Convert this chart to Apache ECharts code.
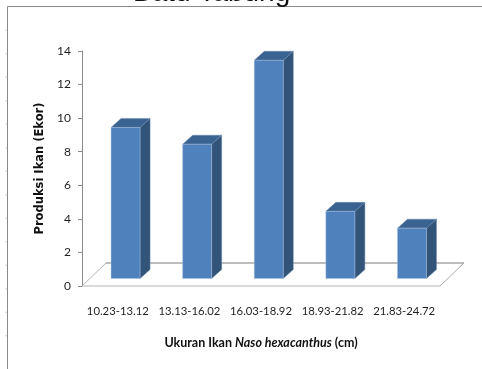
<!DOCTYPE html>
<html><head><meta charset="utf-8">
<style>html,body{margin:0;padding:0;background:#fff}#c{width:482px;height:369px}</style>
<script src="https://cdn.jsdelivr.net/npm/echarts@6/dist/echarts.min.js"></script>
</head><body><div id="c"></div>
<script>
var categories = ["10.23-13.12","13.13-16.02","16.03-18.92","18.93-21.82","21.83-24.72"];
var values = [9,8,13,4,3];
var yTicks = {min:0,max:14,interval:2};
var titleText = "Batu Tabung";
var yName = "Produksi Ikan (Ekor)";

var chart = echarts.init(document.getElementById('c'),null,{renderer:'canvas'});
var GRID = {left:82,top:51,width:358,height:235};
var FLOOR = {dx:24,dy:-23};
var BAR = {w:29,dx:10,dy:-9,ox:7.75,oy:-7.5};

function renderFloor(params,api){
  var c=params.coordSys, l=c.x, r=c.x+c.width, b=c.y+c.height;
  var bl=[l+FLOOR.dx,b+FLOOR.dy], br=[r+FLOOR.dx,b+FLOOR.dy];
  return {type:'group',silent:true,children:[
    {type:'polyline',shape:{points:[[l,b],bl]},style:{stroke:'#b4b4b4',lineWidth:1,fill:null}},
    {type:'polyline',shape:{points:[bl,br]},style:{stroke:'#bdbdbd',lineWidth:2,fill:null}},
    {type:'polyline',shape:{points:[[r,b],br]},style:{stroke:'#a8a8a8',lineWidth:1,fill:null}},
    {type:'line',shape:{x1:l,y1:b,x2:r,y2:b},style:{stroke:'#b4b4b4',lineWidth:1}}
  ]};
}
function renderBar(params,api){
  var p0=api.coord([api.value(0),0]), p1=api.coord([api.value(0),api.value(1)]);
  var x0=p0[0]+BAR.ox-BAR.w/2, x1=x0+BAR.w, yb=p0[1]+BAR.oy, yt=p1[1]+BAR.oy;
  var dx=BAR.dx, dy=BAR.dy, edge='#a9c0dc';
  return {type:'group',children:[
    {type:'polygon',shape:{points:[[x1,yt],[x1+dx,yt+dy],[x1+dx,yb+dy],[x1,yb]]},style:{fill:'#335479',stroke:'#5f7fa5',lineWidth:0.5}},
    {type:'polygon',shape:{points:[[x0,yt],[x0+dx,yt+dy],[x1+dx,yt+dy],[x1,yt]]},style:{fill:'#3b6391',stroke:'#6c8db3',lineWidth:0.5}},
    {type:'rect',shape:{x:x0,y:yt,width:BAR.w,height:yb-yt},style:{fill:'#4f81bd',stroke:edge,lineWidth:0.5}}
  ]};
}
var frameMarks=[];
for(var i=1;i<15;i++){
  frameMarks.push({type:'rect',shape:{x:5.5,y:6+i*23.5,width:1.5,height:1.5},style:{fill:'#d8d8d8'},silent:true});
}
var font='Lato';
chart.setOption({
  animation:false,
  backgroundColor:'#fff',
  grid:GRID,
  graphic:[
    {type:'polyline',shape:{points:[[7.5,369],[7.5,6.5],[482,6.5]]},style:{stroke:'#8a8a8a',lineWidth:1,fill:null},silent:true},
    {type:'text',left:133,top:-21,style:{text:titleText,font:'28px "Liberation Sans"',fill:'#111'},silent:true}
  ].concat(frameMarks),
  xAxis:{type:'category',data:categories,
    axisLine:{show:false},axisTick:{show:false},
    axisLabel:{interval:0,margin:20,fontFamily:font,fontSize:11.3,color:'#1f1f1f'},
    nameLocation:'center',nameGap:50,
    name:'{b|Ukuran Ikan }{i|Naso hexacanthus}{b| (cm)}',
    nameTextStyle:{rich:{
      b:{fontFamily:font,fontSize:12.5,fontWeight:'bold',color:'#111'},
      i:{fontFamily:font,fontSize:12.5,fontWeight:'bold',fontStyle:'italic',color:'#111'}}}
  },
  yAxis:{type:'value',min:yTicks.min,max:yTicks.max,interval:yTicks.interval,
    axisLine:{show:true,lineStyle:{color:'#8a8a8a',width:1}},
    axisTick:{show:true,length:4,lineStyle:{color:'#8a8a8a'}},
    splitLine:{show:false},
    axisLabel:{margin:11,fontFamily:font,fontSize:12,color:'#1f1f1f'},
    name:yName,nameLocation:'center',nameGap:35,nameRotate:90,
    nameTextStyle:{fontFamily:'DejaVu Sans',fontWeight:'bold',fontSize:11.5,color:'#111'}
  },
  series:[
    {type:'custom',coordinateSystem:'cartesian2d',renderItem:renderFloor,data:[[0,0]],z:1,silent:true},
    {type:'custom',coordinateSystem:'cartesian2d',renderItem:renderBar,encode:{x:0,y:1},
     data:categories.map(function(c,i){return [i,values[i]];}),z:2}
  ]
});
</script></body></html>
